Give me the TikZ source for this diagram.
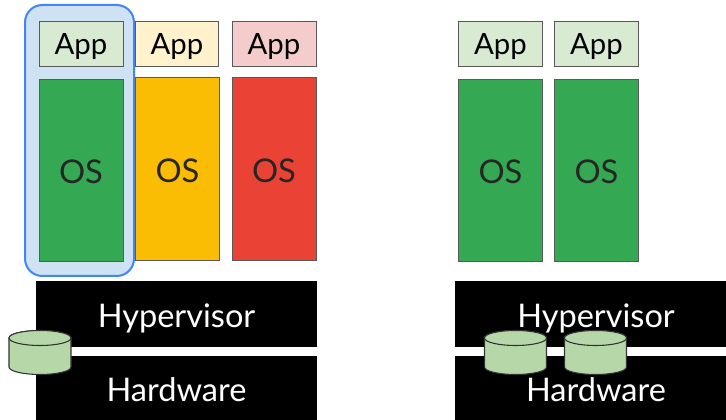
\documentclass[tikz,border=0pt]{standalone}
\usepackage{fontspec}
\setmainfont{Lato}
\definecolor{appG}{HTML}{D9EAD3}
\definecolor{appY}{HTML}{FFF2CC}
\definecolor{appR}{HTML}{F4CCCC}
\definecolor{osG}{HTML}{34A853}
\definecolor{osY}{HTML}{FBBC04}
\definecolor{osR}{HTML}{EA4335}
\definecolor{selF}{HTML}{CFE2F3}
\definecolor{selL}{HTML}{4285F4}
\definecolor{diskF}{HTML}{B6D7A8}
\definecolor{edge}{HTML}{595959}
\newcommand{\boxat}[7]{\node[#1,minimum width=#4*0.75pt,minimum height=#5*0.75pt] (#2) at (#6,#7) {#3};}
\tikzset{
 x=0.75pt,y=-0.75pt,
 appbox/.style={draw=edge,line width=0.75pt,inner sep=0pt,outer sep=0pt,text=black,text height=16.5pt,text depth=0pt,font=\fontsize{22}{24}\selectfont},
 osbox/.style={draw=edge,line width=0.75pt,inner sep=0pt,outer sep=0pt,text=black!85,text height=20pt,text depth=0pt,font=\fontsize{24.5}{26}\selectfont},
 layer/.style={fill=black,inner sep=0pt,outer sep=0pt,text=white,text height=20pt,text depth=0pt,font=\fontsize{24.4}{25}\selectfont},
 disk/.style={fill=diskF,draw=black!80,line width=0.8pt},
 pics/drum/.style={code={
   \path[disk] (-31,-29) -- (-31,0) arc[start angle=180,end angle=360,x radius=31,y radius=-7.5] -- (31,-29) arc[start angle=0,end angle=180,x radius=31,y radius=-7.5] -- cycle;
   \draw[disk] (0,-29) ellipse[x radius=31,y radius=7.5];
 }}
}
\begin{document}
\begin{tikzpicture}
\useasboundingbox (0,0) rectangle (726,420);
\fill[white] (0,0) rectangle (726,420);
\draw[fill=selF,draw=selL,line width=1.5pt,rounded corners=13pt] (25,5) rectangle (134,276);
\boxat{appbox,fill=appG}{a1}{App}{84}{45}{81}{44}
\boxat{appbox,fill=appY}{a2}{App}{83}{45}{177}{44}
\boxat{appbox,fill=appR}{a3}{App}{84}{45}{274}{44}
\boxat{appbox,fill=appG}{a4}{App}{84}{45}{500.5}{44}
\boxat{appbox,fill=appG}{a5}{App}{84}{45}{596.5}{44}
\boxat{osbox,fill=osG}{o1}{OS}{84}{182}{81}{170.5}
\boxat{osbox,fill=osY}{o2}{OS}{84}{183}{177.5}{169}
\boxat{osbox,fill=osR}{o3}{OS}{84}{183}{274}{169}
\boxat{osbox,fill=osG}{o4}{OS}{84}{182}{500.5}{170.5}
\boxat{osbox,fill=osG}{o5}{OS}{84}{182}{596.5}{170.5}
\boxat{layer}{h1}{Hypervisor}{281}{66}{176.5}{314}
\boxat{layer}{w1}{Hardware}{281}{64}{176.5}{388}
\boxat{layer}{h2}{\hspace*{8.25pt}Hypervisor}{271}{66}{590.5}{314}
\boxat{layer}{w2}{\hspace*{8.25pt}Hardware}{271}{64}{590.5}{388}
\pic (d1) at (40,367) {drum};
\pic (d2) at (515.5,367) {drum};
\pic (d3) at (595.5,367) {drum};
\end{tikzpicture}
\end{document}
